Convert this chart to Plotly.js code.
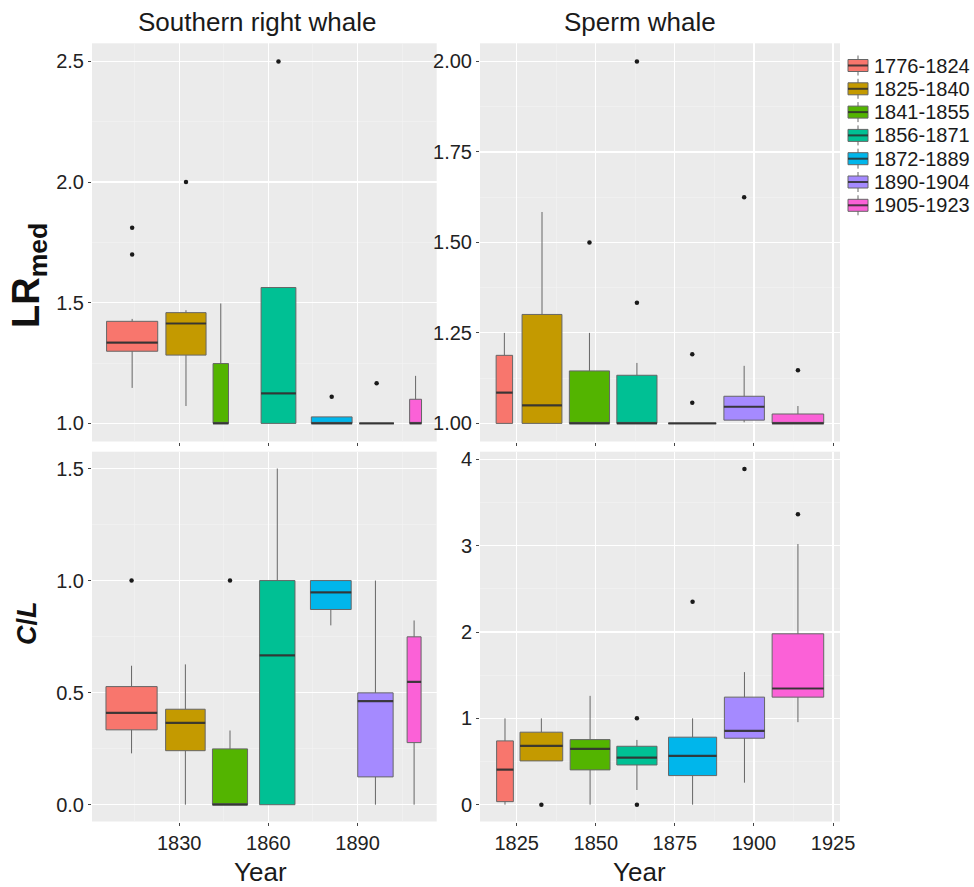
<!DOCTYPE html>
<html>
<head>
<meta charset="utf-8">
<script src="https://cdn.plot.ly/plotly-3.0.1.min.js"></script>
<style>html,body{margin:0;padding:0;background:#fff;}#chart{width:974px;height:887px;}</style>
</head>
<body>
<div id="chart"></div>
<script>
// ---------- DATA ----------
const periods = ['1776-1824','1825-1840','1841-1855','1856-1871','1872-1889','1890-1904','1905-1923'];
const colors  = ['#F8766D','#C49A00','#53B400','#00C094','#00B6EB','#A58AFF','#FB61D7'];

// Southern right whale, LRmed
const srwLR_pos = [1814.2, 1832.3, 1844.0, 1863.4, 1881.3, 1896.4, 1909.5];
const srwLR_wid = [17.2, 13.5, 5.2, 11.7, 13.7, 11.6, 4.0];
const srwLR_q1  = [1.299, 1.283, 1.0, 1.0, 1.0, 1.0, 1.0];
const srwLR_med = [1.335, 1.414, 1.0, 1.124, 1.0, 1.0, 1.0];
const srwLR_q3  = [1.423, 1.459, 1.248, 1.563, 1.027, 1.0, 1.10];
const srwLR_lo  = [1.147, 1.072, 1.0, 1.0, 1.0, 1.0, 1.0];
const srwLR_hi  = [1.433, 1.469, 1.497, 1.563, 1.027, 1.0, 1.197];
const srwLR_outGroup = [0, 0, 1, 3, 4, 5];
const srwLR_outVal   = [1.811, 1.70, 2.0, 2.5, 1.11, 1.166];

// Sperm whale, LRmed
const spLR_pos = [1821.1, 1833.0, 1848.0, 1863.0, 1880.5, 1896.9, 1913.9];
const spLR_wid = [5.2, 12.6, 12.7, 12.7, 15.1, 12.8, 16.3];
const spLR_q1  = [1.0, 1.0, 1.0, 1.0, 1.0, 1.009, 1.0];
const spLR_med = [1.085, 1.050, 1.0, 1.0, 1.0, 1.046, 1.0];
const spLR_q3  = [1.188, 1.301, 1.145, 1.133, 1.0, 1.075, 1.026];
const spLR_lo  = [1.0, 1.0, 1.0, 1.0, 1.0, 1.003, 1.0];
const spLR_hi  = [1.25, 1.584, 1.25, 1.167, 1.0, 1.159, 1.048];
const spLR_outGroup = [2, 3, 3, 4, 4, 5, 6];
const spLR_outVal   = [1.50, 2.0, 1.333, 1.191, 1.057, 1.625, 1.147];

// Southern right whale, C/L
const srwCL_pos = [1814.0, 1832.1, 1847.1, 1863.0, 1881.0, 1896.0, 1909.0];
const srwCL_wid = [17.2, 13.3, 11.8, 11.9, 13.7, 11.9, 4.7];
const srwCL_q1  = [0.334, 0.241, 0.0, 0.0, 0.871, 0.124, 0.277];
const srwCL_med = [0.410, 0.365, 0.0, 0.666, 0.947, 0.462, 0.548];
const srwCL_q3  = [0.527, 0.426, 0.249, 1.0, 1.0, 0.499, 0.749];
const srwCL_lo  = [0.229, 0.0, 0.0, 0.0, 0.80, 0.0, 0.0];
const srwCL_hi  = [0.620, 0.626, 0.331, 1.5, 1.0, 1.0, 0.822];
const srwCL_outGroup = [0, 2];
const srwCL_outVal   = [1.0, 1.0];

// Sperm whale, C/L
const spCL_pos = [1821.3, 1832.8, 1848.2, 1863.0, 1880.6, 1897.0, 1913.9];
const spCL_wid = [5.3, 13.5, 12.6, 12.7, 15.2, 12.7, 16.3];
const spCL_q1  = [0.035, 0.507, 0.403, 0.46, 0.337, 0.77, 1.246];
const spCL_med = [0.406, 0.681, 0.646, 0.545, 0.565, 0.855, 1.346];
const spCL_q3  = [0.739, 0.84, 0.754, 0.677, 0.782, 1.246, 1.98];
const spCL_lo  = [0.0, 0.507, 0.0, 0.17, 0.0, 0.255, 0.956];
const spCL_hi  = [1.0, 1.0, 1.261, 0.75, 1.0, 1.536, 3.02];
const spCL_outGroup = [1, 3, 3, 4, 5, 6];
const spCL_outVal   = [0.0, 1.0, 0.0, 2.352, 3.89, 3.364];

const panelTitles = ['Southern right whale', 'Sperm whale'];
const xTitle = 'Year';
const yTitles = ['LR<sub>med</sub>', '<i>C</i>/<i>L</i>'];

// ---------- STYLE ----------
const W = 974, H = 887;
const px = v => v / W;
const py = v => 1 - v / H;
const FONT = 'Liberation Sans, Arial, sans-serif';
const boxLine = '#666666';
const medLine = 'rgba(45,45,45,0.85)';

const traces = [];
function addPanel(xa, ya, pos, wid, q1, med, q3, lo, hi, outG, outV) {
  for (let g = 0; g < pos.length; g++) {
    traces.push({
      type: 'box', orientation: 'v', xaxis: xa, yaxis: ya,
      x: [pos[g]], q1: [q1[g]], median: [med[g]], q3: [q3[g]],
      lowerfence: [lo[g]], upperfence: [hi[g]],
      width: wid[g], whiskerwidth: 0, boxpoints: false,
      fillcolor: colors[g], line: {color: boxLine, width: 1},
      name: periods[g], showlegend: false, hoverinfo: 'skip'
    });
  }
  // median lines (thicker, like ggplot)
  const mx = [], my = [];
  for (let g = 0; g < pos.length; g++) {
    mx.push(pos[g] - wid[g] / 2, pos[g] + wid[g] / 2, null);
    my.push(med[g], med[g], null);
  }
  traces.push({type: 'scatter', mode: 'lines', xaxis: xa, yaxis: ya, x: mx, y: my,
    line: {color: medLine, width: 2.2}, showlegend: false, hoverinfo: 'skip'});
  // outliers
  traces.push({type: 'scatter', mode: 'markers', xaxis: xa, yaxis: ya,
    x: outG.map(g => pos[g]), y: outV,
    marker: {color: '#1a1a1a', size: 4.5}, showlegend: false, hoverinfo: 'skip'});
}
addPanel('x',  'y',  srwLR_pos, srwLR_wid, srwLR_q1, srwLR_med, srwLR_q3, srwLR_lo, srwLR_hi, srwLR_outGroup, srwLR_outVal);
addPanel('x2', 'y2', spLR_pos,  spLR_wid,  spLR_q1,  spLR_med,  spLR_q3,  spLR_lo,  spLR_hi,  spLR_outGroup,  spLR_outVal);
addPanel('x3', 'y3', srwCL_pos, srwCL_wid, srwCL_q1, srwCL_med, srwCL_q3, srwCL_lo, srwCL_hi, srwCL_outGroup, srwCL_outVal);
addPanel('x4', 'y4', spCL_pos,  spCL_wid,  spCL_q1,  spCL_med,  spCL_q3,  spCL_lo,  spCL_hi,  spCL_outGroup,  spCL_outVal);

const tickFont = {family: FONT, size: 20, color: '#222222'};
function axis(extra) {
  return Object.assign({
    showgrid: true, gridcolor: '#ffffff', gridwidth: 1.2,
    zeroline: false, showline: false,
    ticks: 'outside', ticklen: 3, tickwidth: 1, tickcolor: '#444',
    tickfont: tickFont, fixedrange: true
  }, extra);
}
const xLeftX = [92, 436.7], xRightX = [480, 840];
const yTopY = [43.3, 441.5], yBotY = [451.7, 821.5];
const dom = (a) => [px(a[0]), px(a[1])];
const domY = (a) => [py(a[1]), py(a[0])];
const minorGrid = (dt, t0) => ({dtick: dt, tick0: t0, showgrid: true, gridcolor: '#f3f3f3', gridwidth: 0.6});

const layout = {
  width: W, height: H,
  margin: {l: 0, r: 0, t: 0, b: 0},
  paper_bgcolor: '#ffffff', plot_bgcolor: '#EBEBEB',
  showlegend: false, boxmode: 'overlay',
  font: {family: FONT, color: '#1a1a1a'},
  xaxis:  axis({domain: dom(xLeftX),  anchor: 'y',  range: [1800.7, 1916.6], tick0: 1830, dtick: 30, showticklabels: false, minor: minorGrid(15, 1815)}),
  yaxis:  axis({domain: domY(yTopY),  anchor: 'x',  range: [0.925, 2.575], tick0: 1.0, dtick: 0.5, tickformat: '.1f', minor: minorGrid(0.25, 1.0)}),
  xaxis2: axis({domain: dom(xRightX), anchor: 'y2', range: [1813.4, 1927.2], tick0: 1825, dtick: 25, showticklabels: false, minor: minorGrid(12.5, 1812.5)}),
  yaxis2: axis({domain: domY(yTopY),  anchor: 'x2', range: [0.95, 2.05], tick0: 1.0, dtick: 0.25, tickformat: '.2f', minor: minorGrid(0.125, 1.0)}),
  xaxis3: axis({domain: dom(xLeftX),  anchor: 'y3', range: [1800.7, 1916.6], tick0: 1830, dtick: 30, minor: minorGrid(15, 1815)}),
  yaxis3: axis({domain: domY(yBotY),  anchor: 'x3', range: [-0.075, 1.575], tick0: 0, dtick: 0.5, tickformat: '.1f', minor: minorGrid(0.25, 0)}),
  xaxis4: axis({domain: dom(xRightX), anchor: 'y4', range: [1813.4, 1927.2], tick0: 1825, dtick: 25, minor: minorGrid(12.5, 1812.5)}),
  yaxis4: axis({domain: domY(yBotY),  anchor: 'x4', range: [-0.195, 4.09], tick0: 0, dtick: 1, minor: minorGrid(0.5, 0)}),
  annotations: [], shapes: []
};

// panel titles
[[257, panelTitles[0]], [640, panelTitles[1]]].forEach(([x, t]) => {
  layout.annotations.push({xref: 'paper', yref: 'paper', x: px(x), y: py(22), text: t, showarrow: false,
    xanchor: 'center', yanchor: 'middle', font: {family: FONT, size: 26, color: '#1a1a1a'}});
});
// x titles
[260, 639].forEach(x => {
  layout.annotations.push({xref: 'paper', yref: 'paper', x: px(x), y: py(872), text: xTitle, showarrow: false,
    xanchor: 'center', yanchor: 'middle', font: {family: FONT, size: 26, color: '#1a1a1a'}});
});
// y titles
layout.annotations.push({xref: 'paper', yref: 'paper', x: px(29), y: py(276), text: '<b>' + yTitles[0] + '</b>',
  showarrow: false, textangle: -90, xanchor: 'center', yanchor: 'middle', font: {family: FONT, size: 38, color: '#111'}});
layout.annotations.push({xref: 'paper', yref: 'paper', x: px(27), y: py(623), text: '<b>' + yTitles[1] + '</b>',
  showarrow: false, textangle: -90, xanchor: 'center', yanchor: 'middle', font: {family: FONT, size: 27, color: '#111'}});

// legend (mini boxplot keys)
const legX0 = 848, legX1 = 868, legY0 = 65.5, legStep = 23.3;
periods.forEach((p, i) => {
  const cy = legY0 + i * legStep;
  const cx = (legX0 + legX1) / 2;
  layout.shapes.push({type: 'line', xref: 'paper', yref: 'paper', x0: px(cx), x1: px(cx), y0: py(cy - 10), y1: py(cy + 10),
    line: {color: boxLine, width: 1}});
  layout.shapes.push({type: 'rect', xref: 'paper', yref: 'paper', x0: px(legX0), x1: px(legX1), y0: py(cy - 6), y1: py(cy + 6),
    fillcolor: colors[i], line: {color: boxLine, width: 1}});
  layout.shapes.push({type: 'line', xref: 'paper', yref: 'paper', x0: px(legX0), x1: px(legX1), y0: py(cy), y1: py(cy),
    line: {color: medLine, width: 2}});
  layout.annotations.push({xref: 'paper', yref: 'paper', x: px(872), y: py(cy), text: p, showarrow: false,
    xanchor: 'left', yanchor: 'middle', font: {family: FONT, size: 20, color: '#1a1a1a'}});
});

Plotly.newPlot('chart', traces, layout, {displayModeBar: false, staticPlot: true});
</script>
</body>
</html>
